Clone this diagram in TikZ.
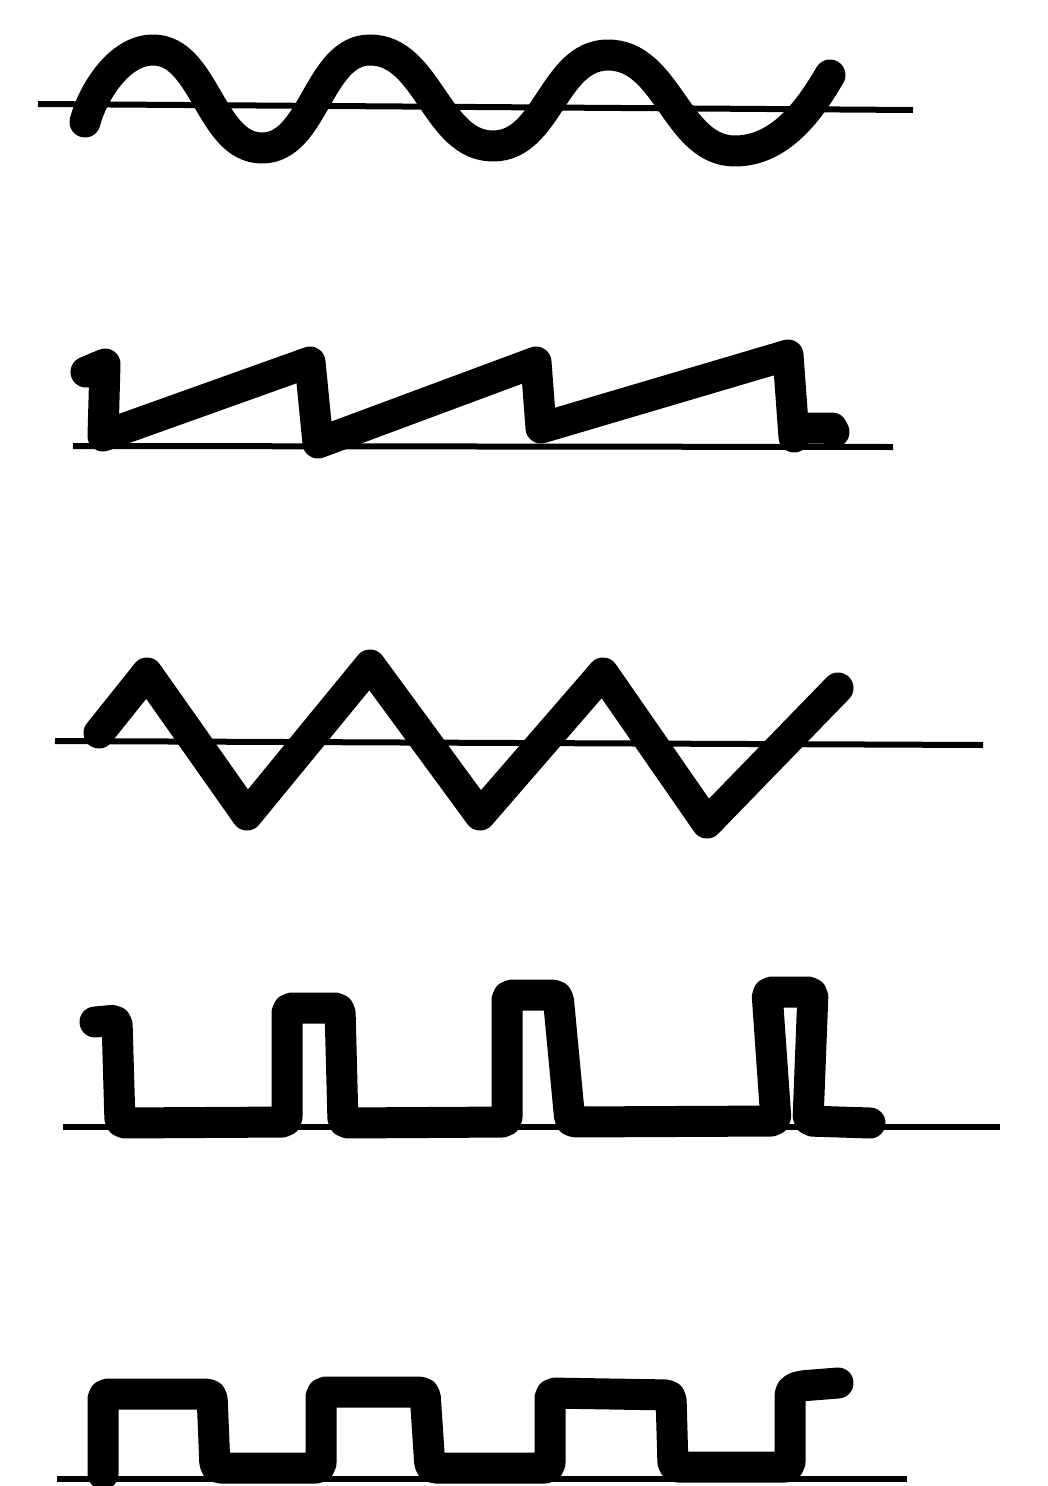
\documentclass[tikz,border=0pt]{standalone}
\begin{document}
\begin{tikzpicture}[x=1pt,y=-1pt,
  wave/.style={line width=31pt, line cap=round, line join=round, black},
  axis/.style={line width=6pt, line cap=butt, black}]
\fill[white] (0,0) rectangle (1047,1486);
\useasboundingbox (0,0) rectangle (1047,1486);
% ---------- sine ----------
\coordinate (s0) at (38,104);
\coordinate (s1) at (913,110);
\draw[axis] (s0) -- (s1);
\draw[wave] (85,122) .. controls (92,95) and (118,50) .. (153,50)
  .. controls (205,50) and (210,148) .. (262,148)
  .. controls (314,148) and (318,50) .. (370,50)
  .. controls (428,50) and (436,146) .. (493,146)
  .. controls (548,146) and (553,55) .. (608,55)
  .. controls (668,55) and (676,151) .. (735,151)
  .. controls (785,151) and (815,100) .. (830,75);
% ---------- sawtooth ----------
\coordinate (a0) at (73,446);
\coordinate (a1) at (893,447);
\draw[axis] (a0) -- (a1);
\draw[wave] (86,372) -- (105,364) -- (103,436) -- (310,362) -- (318,443)
  -- (536,362) -- (541,428) -- (788,355) -- (794,437);
\draw[wave] (798,428) -- (832,428) -- (834,432);
% ---------- triangle ----------
\coordinate (t0) at (55,741);
\coordinate (t1) at (983,745);
\draw[axis] (t0) -- (t1);
\draw[wave] (99,733) -- (147,673) -- (247,815) -- (370,665) -- (480,815)
  -- (603,673) -- (707,823) -- (838,688);
% ---------- pulse ----------
\coordinate (p0) at (63,1127);
\coordinate (p1) at (1000,1127);
\draw[axis] (p0) -- (p1);
\draw[wave, rounded corners=5pt] (95,1022) -- (117,1020) -- (120,1123) -- (287,1122)
  -- (287,1008) -- (340,1008) -- (343,1123) -- (507,1122) -- (507,995)
  -- (558,995) -- (570,1122) -- (776,1121) -- (767,992) -- (813,992)
  -- (808,1121) -- (870,1123);
% ---------- square ----------
\coordinate (q0) at (57,1479);
\coordinate (q1) at (907,1479);
\draw[axis] (q0) -- (q1);
\draw[wave, rounded corners=5pt] (103,1474) -- (103,1394) -- (212,1394) -- (215,1468)
  -- (321,1468) -- (321,1392) -- (425,1392) -- (430,1468) -- (550,1468)
  -- (550,1393) -- (671,1395) -- (673,1467) -- (790,1467) -- (790,1390)
  -- (800,1386) -- (838,1383);
\end{tikzpicture}
\end{document}
